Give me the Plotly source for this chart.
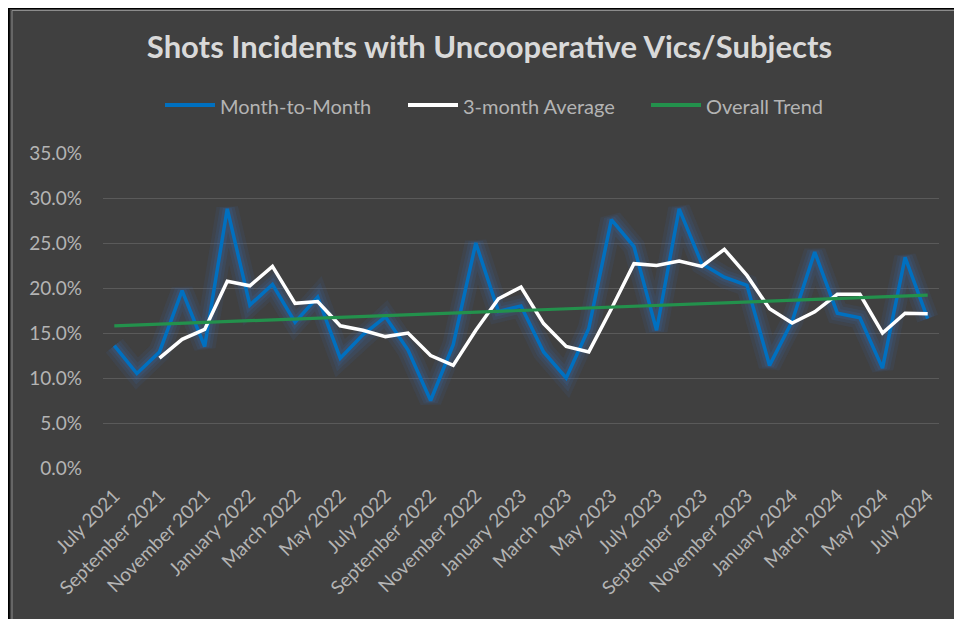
import plotly.graph_objects as go

months = [
    "July 2021", "August 2021", "September 2021", "October 2021", "November 2021", "December 2021",
    "January 2022", "February 2022", "March 2022", "April 2022", "May 2022", "June 2022",
    "July 2022", "August 2022", "September 2022", "October 2022", "November 2022", "December 2022",
    "January 2023", "February 2023", "March 2023", "April 2023", "May 2023", "June 2023",
    "July 2023", "August 2023", "September 2023", "October 2023", "November 2023", "December 2023",
    "January 2024", "February 2024", "March 2024", "April 2024", "May 2024", "June 2024",
    "July 2024",
]

month_to_month = [
    13.6, 10.5, 12.9, 19.7, 13.5, 28.8, 18.1, 20.4, 16.2, 19.0, 12.2, 14.8,
    16.8, 13.1, 7.5, 13.7, 25.0, 17.4, 18.0, 12.9, 10.0, 15.5, 27.6, 24.6,
    15.3, 28.8, 22.7, 21.2, 20.3, 11.4, 16.3, 24.0, 17.2, 16.7, 11.1, 23.4,
    16.6,
]

three_month_avg = [
    None, None, 12.2, 14.3, 15.4, 20.75, 20.25, 22.4, 18.3, 18.5, 15.8, 15.3,
    14.6, 15.0, 12.5, 11.4, 15.3, 18.8, 20.1, 16.05, 13.5, 12.9, 17.7, 22.7,
    22.5, 23.0, 22.4, 24.3, 21.4, 17.7, 16.1, 17.35, 19.3, 19.3, 15.0, 17.2,
    17.15,
]

trend_months = ["July 2021", "July 2024"]
trend_values = [15.8, 19.2]

tick_labels = months[::2]

series_names = ["Month-to-Month", "3-month Average", "Overall Trend"]

TITLE = "Shots Incidents with Uncooperative Vics/Subjects"
FONT = "Lato, Carlito, Calibri, sans-serif"
BG = "#404040"
BLUE = "#0070C0"
GREEN = "#23914C"
WHITE = "#FFFFFF"
TXT = "#B4B4B4"
colors = [BLUE, WHITE, GREEN]

# page has an 8px body margin; figure coordinates = screen - 8
W, H = 954, 611
L, R, T, B = 95, 23, 145, 151
PW = W - L - R
PH = H - T - B


def px_x(x):
    return (x - L) / PW


def px_y(y):
    return 1 - (y - T) / PH


m2m = [v / 100 for v in month_to_month]
avg = [None if v is None else v / 100 for v in three_month_avg]
trend = [v / 100 for v in trend_values]

fig = go.Figure()

# soft glow under blue line
for wd, a in [(22, 0.09), (15, 0.12), (9, 0.16)]:
    fig.add_trace(go.Scatter(
        x=months, y=m2m, mode="lines", showlegend=False, hoverinfo="skip",
        line=dict(color=f"rgba(50,115,195,{a})", width=wd),
    ))

fig.add_trace(go.Scatter(
    x=months, y=m2m, mode="lines", name=series_names[0],
    line=dict(color=BLUE, width=3.5), showlegend=False,
))
fig.add_trace(go.Scatter(
    x=months, y=avg, mode="lines", name=series_names[1],
    line=dict(color=WHITE, width=3.5), showlegend=False,
))
fig.add_trace(go.Scatter(
    x=trend_months, y=trend, mode="lines", name=series_names[2],
    line=dict(color=GREEN, width=3.2), showlegend=False,
))

shapes = [
    # black border (left / top)
    dict(type="line", xref="paper", yref="paper", x0=px_x(0.8), x1=px_x(0.8), y0=px_y(0), y1=px_y(H + 5),
         line=dict(color="#000000", width=1.8), layer="above"),
    dict(type="line", xref="paper", yref="paper", x0=px_x(0), x1=px_x(W + 5), y0=px_y(0.5), y1=px_y(0.5),
         line=dict(color="#000000", width=1.2), layer="above"),
    # light inner border
    dict(type="line", xref="paper", yref="paper", x0=px_x(4), x1=px_x(4), y0=px_y(2.5), y1=px_y(H + 5),
         line=dict(color="#8C8C8C", width=1), layer="above"),
    dict(type="line", xref="paper", yref="paper", x0=px_x(4), x1=px_x(W + 5), y0=px_y(2.5), y1=px_y(2.5),
         line=dict(color="#8C8C8C", width=1), layer="above"),
]

annotations = []
# custom legend
leg_y = 97
leg_x0 = [157, 400, 643]
for name, col, x0 in zip(series_names, colors, leg_x0):
    shapes.append(dict(type="line", xref="paper", yref="paper",
                       x0=px_x(x0), x1=px_x(x0 + 50), y0=px_y(leg_y), y1=px_y(leg_y),
                       line=dict(color=col, width=4)))
    annotations.append(dict(text=name, xref="paper", yref="paper",
                            x=px_x(x0 + 53), y=px_y(leg_y + 1), xanchor="left", yanchor="middle",
                            showarrow=False, font=dict(family=FONT, size=20, color=TXT)))

fig.update_layout(
    width=W, height=H,
    margin=dict(l=L, r=R, t=T, b=B),
    paper_bgcolor=BG, plot_bgcolor=BG,
    font=dict(family=FONT, color=TXT),
    title=dict(text=TITLE, x=481.5 / W, xanchor="center",
               y=1 - 39 / H, yanchor="middle",
               font=dict(family=FONT, size=31, color="#D9D9D9", weight="bold")),
    xaxis=dict(
        type="category", categoryorder="array", categoryarray=months,
        tickmode="array", tickvals=tick_labels, ticktext=tick_labels,
        tickangle=-45, tickfont=dict(family=FONT, size=19, color=TXT),
        showgrid=False, showline=False, ticks="", zeroline=False,
        ticklabelstandoff=12,
        range=[-0.5, len(months) - 0.5],
    ),
    yaxis=dict(
        range=[0, 0.35], tickformat=".1%", dtick=0.05,
        tickfont=dict(family=FONT, size=19, color=TXT),
        gridcolor="#5A5A5A", gridwidth=1.3, zeroline=False, showline=False,
        ticks="", ticklen=0, ticklabelstandoff=20,
    ),
    shapes=shapes,
    annotations=annotations,
    showlegend=False,
)

fig.write_html("out.html")
